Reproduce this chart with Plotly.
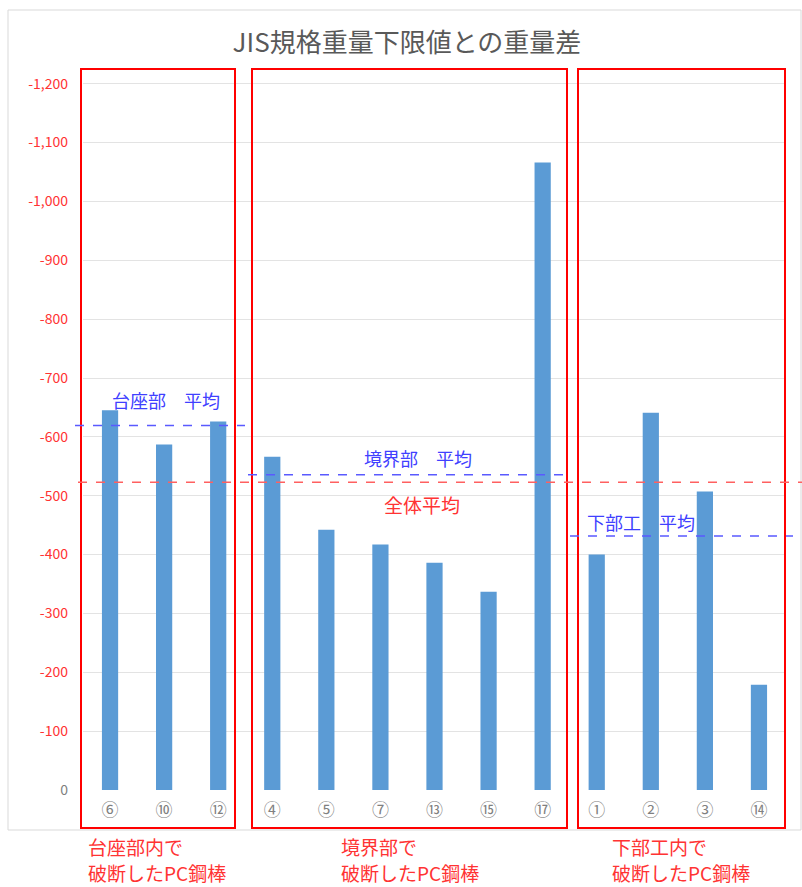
import plotly.graph_objects as go

# ---- data ----
categories = ["⑥", "⑩", "⑫", "④", "⑤", "⑦", "⑬", "⑮", "⑰", "①", "②", "③", "⑭"]
values = [-645, -587, -626, -566, -442, -417, -386, -337, -1066, -400, -641, -507, -179]
group_names = ["台座部", "境界部", "下部工"]
group_sizes = [3, 6, 4]
group_labels = [["台座部内で", "破断したPC鋼棒"], ["境界部で", "破断したPC鋼棒"], ["下部工内で", "破断したPC鋼棒"]]
tick_values = [0, -100, -200, -300, -400, -500, -600, -700, -800, -900, -1000, -1100, -1200]
title_text = "JIS規格重量下限値との重量差"

# ---- layout geometry ----
W, H = 802, 887
ML, MR, MT, MB = 83, 16, 69, 97
YMAX = -1225
n = len(categories)
pw = W - ML - MR
ph = H - MT - MB

def px_x(p):
    return (p - ML) / pw

def px_y(p):
    return (H - MB - p) / ph

FONT = "Noto Sans CJK JP"
RED = "#ff3333"
BLUE = "#4040ff"

fig = go.Figure()
fig.add_trace(go.Bar(x=categories, y=values, marker=dict(color="#5b9bd5", line=dict(width=0)),
                     width=0.3, showlegend=False))

# group averages
starts = [0]
for s in group_sizes[:-1]:
    starts.append(starts[-1] + s)
group_avgs = [sum(values[st:st + sz]) / sz for st, sz in zip(starts, group_sizes)]
overall_avg = sum(values) / len(values)

shapes = []
# outer chart border
shapes.append(dict(type="rect", xref="paper", yref="paper", x0=px_x(8), x1=px_x(801),
                   y0=px_y(830), y1=px_y(10), line=dict(color="#d9d9d9", width=1), layer="below"))
# red group boxes
box_px = [(81, 235), (252, 567), (578, 785)]
for (a, b) in box_px:
    shapes.append(dict(type="rect", xref="paper", yref="paper", x0=px_x(a), x1=px_x(b),
                       y0=px_y(828), y1=px_y(69), line=dict(color="#ff0000", width=2)))

# average lines (paper y derived from data values)
def val_to_paper(v):
    return v / YMAX

avg_px = [(75, 245), (248, 571), (570, 793)]
for (a, b), av in zip(avg_px, group_avgs):
    shapes.append(dict(type="line", xref="paper", yref="paper", x0=px_x(a), x1=px_x(b),
                       y0=val_to_paper(av), y1=val_to_paper(av),
                       line=dict(color="#5a5aff", width=1.5, dash="dash")))
shapes.append(dict(type="line", xref="paper", yref="paper", x0=px_x(78), x1=px_x(802),
                   y0=val_to_paper(overall_avg), y1=val_to_paper(overall_avg),
                   line=dict(color="#ff6060", width=1.5, dash="dash")))

annotations = []
avg_label_pos = [(166, 400), (418, 458), (641, 522)]
for name, (x, y) in zip(group_names, avg_label_pos):
    annotations.append(dict(text=name + "\u3000平均", xref="paper", yref="paper", x=px_x(x), y=px_y(y),
                            xanchor="center", yanchor="middle",
                            showarrow=False, font=dict(family=FONT, size=18, color=BLUE)))
annotations.append(dict(text="全体平均", xref="paper", yref="paper", x=px_x(422), y=px_y(505),
                        xanchor="center", yanchor="middle",
                        showarrow=False, font=dict(family=FONT, size=19, color=RED)))
bottom_x = [86, 339, 610]
for lines, x in zip(group_labels, bottom_x):
    for j, line in enumerate(lines):
        annotations.append(dict(text=line, xref="paper", yref="paper", x=px_x(x), y=px_y(846 + 26 * j),
                                xanchor="left", yanchor="middle", showarrow=False,
                                font=dict(family=FONT, size=19, color=RED)))

tick_text = [("<span style='color:#7f7f7f'>%s</span>" % f"{v:,}") if v == 0 else f"{v:,}" for v in tick_values]

fig.update_layout(
    width=W, height=H,
    margin=dict(l=ML, r=MR, t=MT, b=MB),
    paper_bgcolor="white", plot_bgcolor="white",
    title=dict(text=title_text, x=407 / W, xref="container", xanchor="center", y=1 - 43 / H, yanchor="middle",
               font=dict(family=FONT, size=26, color="#595959")),
    xaxis=dict(type="category", categoryorder="array", categoryarray=categories,
               range=[-0.5, n - 0.5], showgrid=False, zeroline=False, showline=False,
               tickfont=dict(family=FONT, size=17, color="#808080"), ticks="", ticklabelstandoff=8),
    yaxis=dict(range=[0, YMAX], tickvals=tick_values, ticktext=tick_text,
               showgrid=True, gridcolor="#e3e3e3", gridwidth=1, zeroline=False, showline=False,
               tickfont=dict(family=FONT, size=14, color=RED), ticks="", ticklabelstandoff=14),
    shapes=shapes, annotations=annotations,
    font=dict(family=FONT),
)

fig.write_html("out.html")
